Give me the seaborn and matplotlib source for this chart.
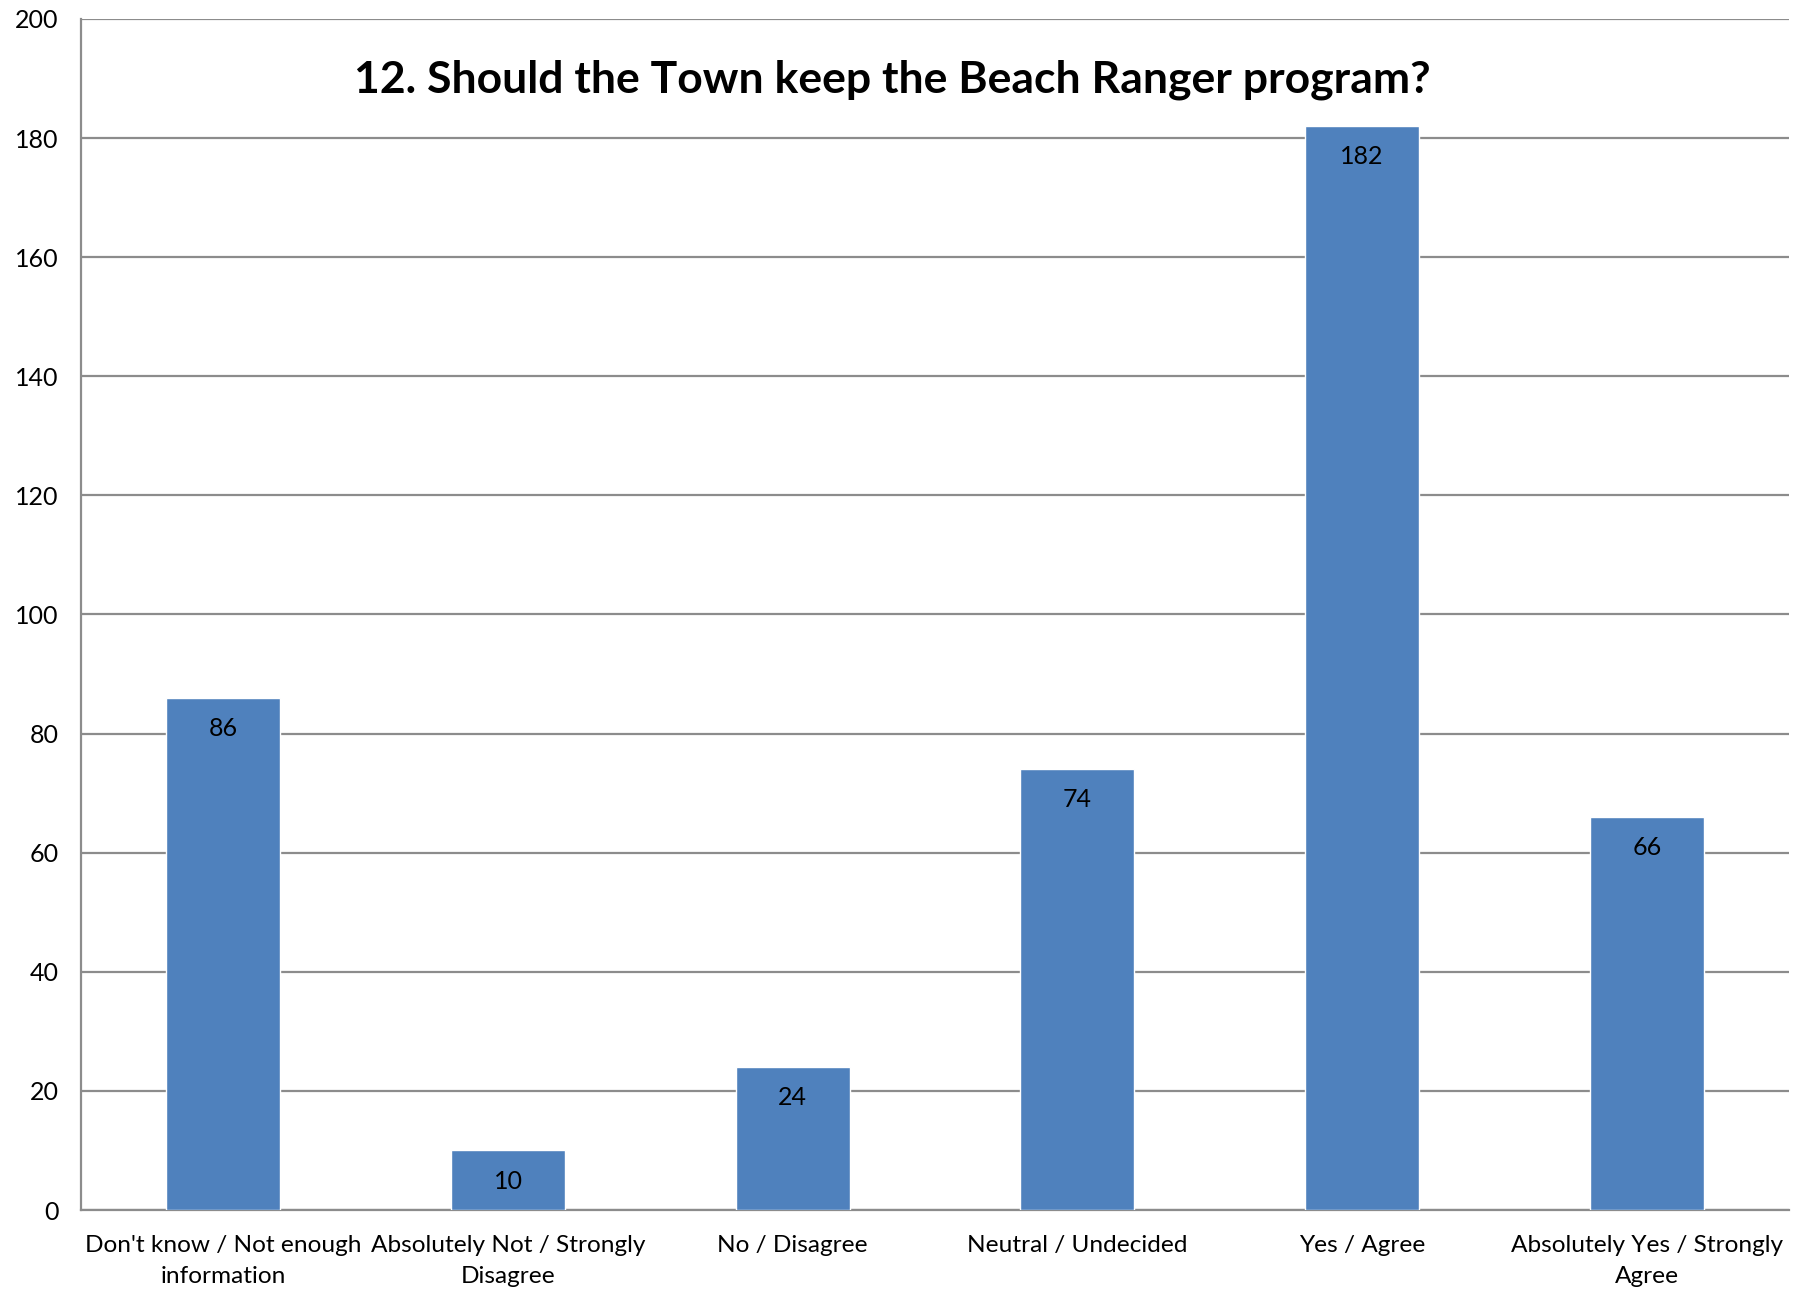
import numpy as np
import pandas as pd
import matplotlib
matplotlib.use("Agg")
import matplotlib.pyplot as plt
import seaborn as sns

categories = ["Don't know / Not enough\ninformation", "Absolutely Not / Strongly\nDisagree",
              "No / Disagree", "Neutral / Undecided", "Yes / Agree",
              "Absolutely Yes / Strongly\nAgree"]
counts = [86, 10, 24, 74, 182, 66]
title = "12. Should the Town keep the Beach Ranger program?"

df = pd.DataFrame({"answer": categories, "count": counts})

sns.set_style("white")
plt.rcParams['font.family'] = ['Lato', 'DejaVu Sans']
plt.rcParams['text.color'] = 'black'

fig = plt.figure(figsize=(18.18, 13.06), dpi=100)
ax = fig.add_axes([0.0446, 0.0735, 0.9395, 0.912])

sns.barplot(data=df, x="answer", y="count", color="#4F81BD", saturation=1,
            width=0.4, ax=ax, zorder=3)

ax.set_ylim(0, 200)
ax.set_xlim(-0.5, len(categories) - 0.5)
ax.set_yticks(np.arange(0, 201, 20))
ax.yaxis.grid(True, color="#8c8c8c", linewidth=1.6, zorder=0)
ax.set_axisbelow(True)

# boundary ticks between categories, labels centred on bars
ax.set_xticks(np.arange(-0.5, len(categories), 1.0))
ax.set_xticklabels([])
ax.set_xticks(np.arange(len(categories)), minor=True)
ax.set_xticklabels(categories, minor=True, fontsize=17.6, linespacing=1.6)
ax.tick_params(axis="x", which="minor", length=0, pad=18, labelcolor="black")
ax.tick_params(axis="x", which="major", length=8, width=1.6, color="#8c8c8c", direction="out")
ax.tick_params(axis="y", length=8, width=1.6, color="#8c8c8c", labelsize=18, pad=8,
               labelcolor="black")

for s in ["top", "right"]:
    ax.spines[s].set_visible(False)
for s in ["left", "bottom"]:
    ax.spines[s].set_color("#8c8c8c")
    ax.spines[s].set_linewidth(1.6)

ax.set_xlabel("")
ax.set_ylabel("")

for i, v in enumerate(counts):
    ax.annotate(str(v), (i, v), xytext=(0, -22), textcoords="offset points",
                ha="center", va="center", fontsize=18, color="black", zorder=4)

fig.text(0.491, 0.939, title, ha="center", va="center", fontsize=32, fontweight="bold",
         color="black")

fig.savefig("out.png", dpi=100)
